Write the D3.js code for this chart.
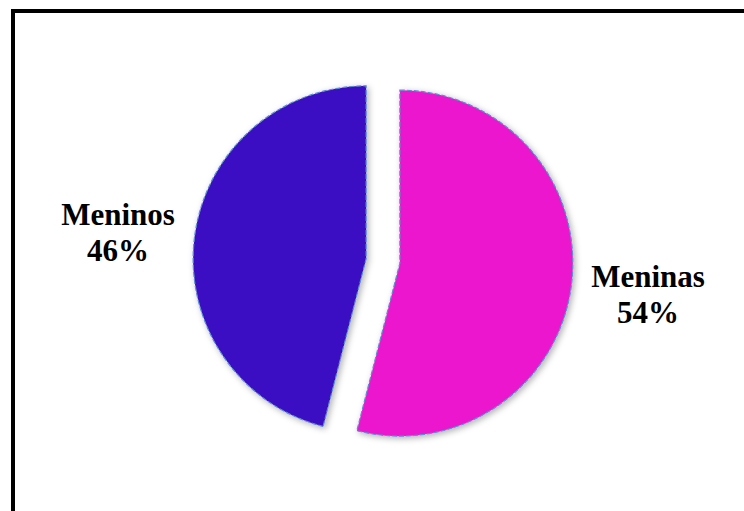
<!DOCTYPE html>
<html>
<head>
<meta charset="utf-8">
<script src="https://cdn.jsdelivr.net/npm/d3@7"></script>
<style>
  body { margin: 0; background: #fff; }
</style>
</head>
<body>
<div id="container"></div>
<script>
/* CONSTANTS AND GLOBALS */
const width = 744,
      height = 511,
      radius = 173,
      explode = 17,
      center = {x: 383, y: 261};

/* DATA */
const categories = ["Meninas", "Meninos"];
const values = [54, 46];
const colors = ["#ec17cf", "#3a0ec3"];

// label anchor positions (centre of the two text lines)
const labelPos = [{x: 648, y: 287}, {x: 118, y: 225}];

const data = categories.map((c, i) => ({name: c, value: values[i]}));

/* HTML ELEMENTS */
const svg = d3.select("#container")
  .append("svg")
  .attr("width", width)
  .attr("height", height);

// frame
svg.append("rect")
  .attr("x", 13)
  .attr("y", 11)
  .attr("width", width + 20)
  .attr("height", height + 20)
  .attr("fill", "none")
  .attr("stroke", "#000")
  .attr("stroke-width", 4);

const defs = svg.append("defs");
const filter = defs.append("filter")
  .attr("id", "shadow")
  .attr("x", "-20%").attr("y", "-20%")
  .attr("width", "140%").attr("height", "140%");
filter.append("feDropShadow")
  .attr("dx", 2).attr("dy", 2)
  .attr("stdDeviation", 3)
  .attr("flood-color", "#000")
  .attr("flood-opacity", 0.3);

const pie = d3.pie()
  .value(d => d.value)
  .sort(null);

const arc = d3.arc()
  .innerRadius(0)
  .outerRadius(radius);

const arcs = pie(data);

const g = svg.append("g")
  .attr("transform", `translate(${center.x},${center.y})`);

g.selectAll(".slice")
  .data(arcs)
  .join("path")
  .attr("class", "slice")
  .attr("d", arc)
  .attr("transform", d => {
    const mid = (d.startAngle + d.endAngle) / 2;
    return `translate(${Math.sin(mid) * explode},${-Math.cos(mid) * explode})`;
  })
  .attr("fill", (d, i) => colors[i])
  .attr("stroke", "#5b8fd0")
  .attr("stroke-width", 1.2)
  .attr("stroke-dasharray", "5,2")
  .attr("filter", "url(#shadow)");

// labels
const labels = svg.selectAll(".label")
  .data(arcs)
  .join("text")
  .attr("class", "label")
  .attr("text-anchor", "middle")
  .attr("font-family", "'Liberation Serif', 'Times New Roman', serif")
  .attr("font-weight", "bold")
  .attr("font-size", 31)
  .attr("fill", "#000");

labels.append("tspan")
  .attr("x", (d, i) => labelPos[i].x)
  .attr("y", (d, i) => labelPos[i].y)
  .text(d => d.data.name);

labels.append("tspan")
  .attr("x", (d, i) => labelPos[i].x)
  .attr("y", (d, i) => labelPos[i].y + 36)
  .text(d => d.data.value + "%");
</script>
</body>
</html>
